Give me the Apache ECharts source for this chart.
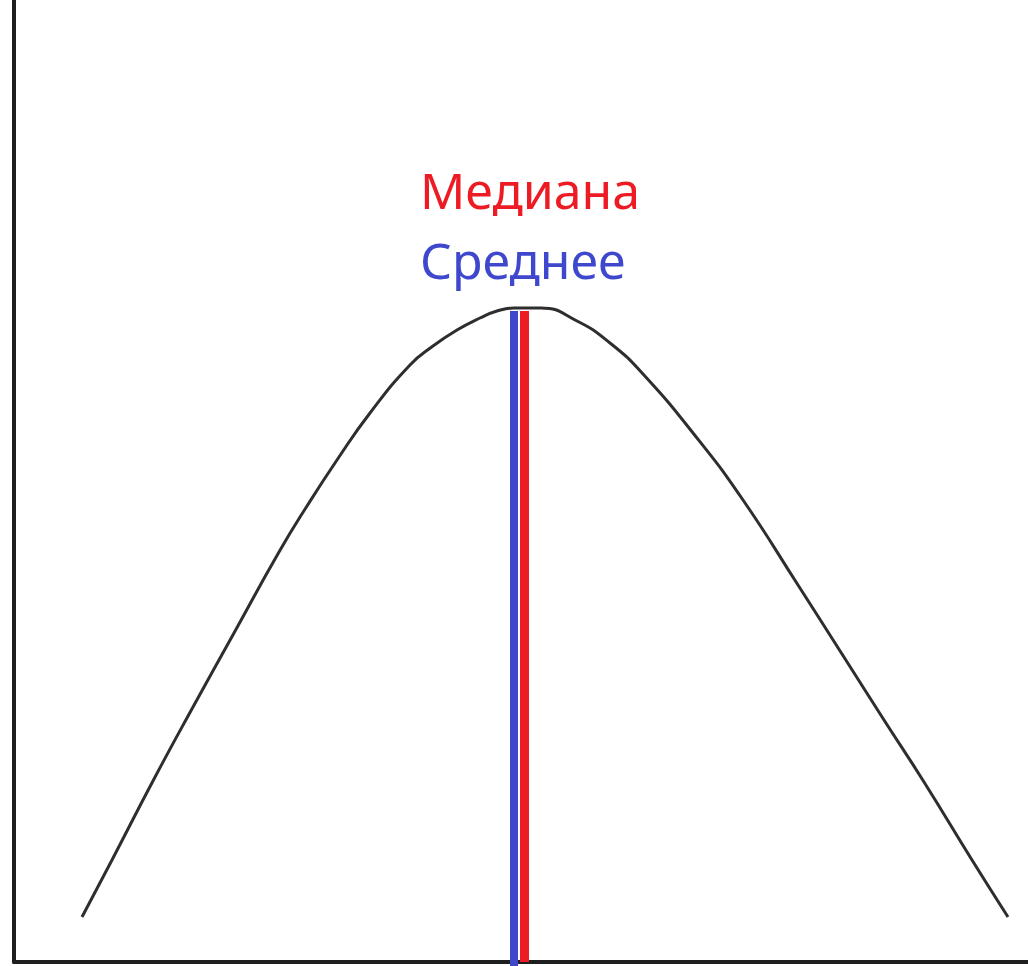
<!DOCTYPE html>
<html>
<head>
<meta charset="utf-8">
<title>Медиана и среднее</title>
<script src="https://cdn.jsdelivr.net/npm/echarts@6/dist/echarts.min.js"></script>
<style>
  html, body { margin: 0; padding: 0; background: #fff; }
  #chart { width: 1028px; height: 966px; }
</style>
</head>
<body>
<div id="chart"></div>
<script>
// curve (x to the right of the y axis, y above the x axis)
const curveX = [68, 98, 140, 179, 220, 265, 293, 323, 356, 396, 419, 443, 466, 483, 500, 527, 563, 596, 629, 683, 729, 784, 828, 870, 910, 958, 994];
const curveY = [45, 102, 183, 255, 329, 410, 456, 502, 549, 597, 616, 632, 644, 651, 654, 654, 641, 619, 588, 524, 462, 377, 308, 242, 180, 102, 45];

const meanX = 500;
const medianX = 510.5;
const markTop = 651;

const labelMedian = 'Медиана';
const labelMean = 'Среднее';

let chartDom = document.getElementById('chart');
let myChart = echarts.init(chartDom, null, { renderer: 'canvas' });

let curveData = curveX.map((x, i) => [x, curveY[i]]);

let option = {
  animation: false,
  backgroundColor: '#ffffff',
  grid: {
    left: 14,
    right: 0,
    top: 0,
    bottom: 4
  },
  xAxis: {
    type: 'value',
    min: 0,
    max: 1014,
    axisLine: {
      show: true,
      lineStyle: { color: '#1e1e1e', width: 4 }
    },
    axisTick: { show: false },
    axisLabel: { show: false },
    splitLine: { show: false }
  },
  yAxis: {
    type: 'value',
    min: 0,
    max: 962,
    axisLine: {
      show: true,
      lineStyle: { color: '#1e1e1e', width: 4 }
    },
    axisTick: { show: false },
    axisLabel: { show: false },
    splitLine: { show: false }
  },
  series: [
    {
      name: 'curve',
      type: 'line',
      data: curveData,
      smooth: 0.5,
      showSymbol: false,
      lineStyle: { color: '#2e2e2e', width: 3 },
      z: 2
    },
    {
      name: labelMean,
      type: 'line',
      data: [[meanX, -4], [meanX, markTop]],
      showSymbol: false,
      clip: false,
      lineStyle: { color: '#3f48cc', width: 8, cap: 'butt' },
      z: 3
    },
    {
      name: labelMedian,
      type: 'line',
      data: [[medianX, 0], [medianX, markTop]],
      showSymbol: false,
      clip: false,
      lineStyle: { color: '#ed1c24', width: 9, cap: 'butt' },
      z: 3
    }
  ],
  graphic: [
    {
      type: 'text',
      left: 420,
      top: 170,
      style: {
        text: labelMedian,
        fill: '#ed1c24',
        font: '50px "Noto Sans"'
      }
    },
    {
      type: 'text',
      left: 420,
      top: 240,
      style: {
        text: labelMean,
        fill: '#3f48cc',
        font: '50px "Noto Sans"'
      }
    }
  ]
};

option && myChart.setOption(option);
</script>
</body>
</html>
